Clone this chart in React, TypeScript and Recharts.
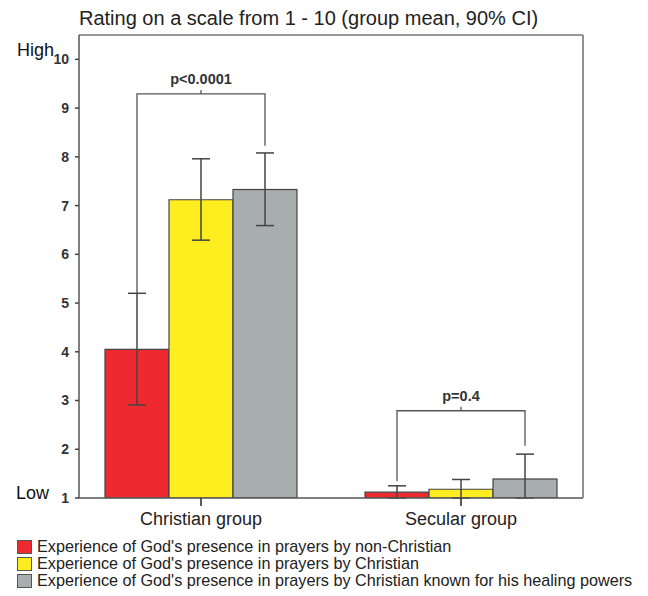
import React from 'react';
import { BarChart, Bar, XAxis, YAxis, ErrorBar, Legend, Customized } from 'recharts';

// Groups on the x axis
const groups = ['Christian group', 'Secular group'];

// Legend / series names
const seriesNames = [
  "Experience of God's presence in prayers by non-Christian",
  "Experience of God's presence in prayers by Christian",
  "Experience of God's presence in prayers by Christian known for his healing powers",
];

// Group means and 90% confidence limits per series
const nonChristianMean = [4.05, 1.12];
const nonChristianLow = [2.91, 1.0];
const nonChristianHigh = [5.2, 1.25];

const christianMean = [7.12, 1.18];
const christianLow = [6.29, 1.0];
const christianHigh = [7.96, 1.38];

const healerMean = [7.33, 1.39];
const healerLow = [6.59, 1.0];
const healerHigh = [8.08, 1.9];

// Significance brackets (per group): label, bar level, leg end on left / right
const pLabels = ['p<0.0001', 'p=0.4'];
const bracketLevel = [9.29, 2.79];
const bracketLeftEnd = [5.2, 1.35];
const bracketRightEnd = [8.23, 2.07];

// Y axis
const yTicks = [1, 2, 3, 4, 5, 6, 7, 8, 9, 10];
const Y_MIN = 1;
const Y_MAX = 10.5;

const title = 'Rating on a scale from 1 - 10 (group mean, 90% CI)';

const COLORS = ['#EE2A30', '#FFEE1F', '#A8ADAD'];
const FONT = '"Liberation Sans", Arial, Helvetica, sans-serif';

const data = groups.map((g, i) => ({
  group: g,
  nonChristian: nonChristianMean[i],
  nonChristianErr: [nonChristianMean[i] - nonChristianLow[i], nonChristianHigh[i] - nonChristianMean[i]],
  christian: christianMean[i],
  christianErr: [christianMean[i] - christianLow[i], christianHigh[i] - christianMean[i]],
  healer: healerMean[i],
  healerErr: [healerMean[i] - healerLow[i], healerHigh[i] - healerMean[i]],
  pLabel: pLabels[i],
  bracketLevel: bracketLevel[i],
  bracketLeftEnd: bracketLeftEnd[i],
  bracketRightEnd: bracketRightEnd[i],
}));

// Last bar of each group; also draws the significance bracket spanning
// from the first bar's centre to this bar's centre.
const HealerBarWithBracket = (props: any) => {
  const { x, y, width, height, payload } = props;
  const base = y + height;
  const perUnit = height / (payload.healer - Y_MIN);
  const toPx = (v: number) => base - (v - Y_MIN) * perUnit;
  const rightX = x + width / 2;
  const leftX = rightX - 2 * width;
  const midX = (leftX + rightX) / 2;
  const level = toPx(payload.bracketLevel);
  const bracketStroke = '#555';
  return (
    <g>
      <rect x={x} y={y} width={width} height={height} fill={COLORS[2]} stroke="#444" strokeWidth={1.2} />
      <path
        d={`M${leftX},${toPx(payload.bracketLeftEnd)} L${leftX},${level} L${rightX},${level} L${rightX},${toPx(payload.bracketRightEnd)}`}
        fill="none"
        stroke={bracketStroke}
        strokeWidth={1.3}
      />
      <line x1={midX} y1={level} x2={midX} y2={level - 4} stroke={bracketStroke} strokeWidth={1.3} />
      <text
        x={midX}
        y={level - 10}
        textAnchor="middle"
        fontFamily={FONT}
        fontSize={14.5}
        fontWeight="bold"
        fill="#333"
      >
        {payload.pLabel}
      </text>
    </g>
  );
};

const YTick = (props: any) => {
  const { x, y, payload } = props;
  const v = payload.value;
  return (
    <g>
      {v === 10 && (
        <text x={9} y={y - 3} fontFamily={FONT} fontSize={18} fill="#111">
          High
        </text>
      )}
      {v === 1 && (
        <text x={8} y={y + 1} fontFamily={FONT} fontSize={18} fill="#111">
          Low
        </text>
      )}
      <text x={x} y={y} dy="0.355em" textAnchor="end" fontFamily={FONT} fontSize={14} fontWeight="bold" fill="#333">
        {v}
      </text>
    </g>
  );
};

const Title = () => (
  <text x={71} y={17} fontFamily={FONT} fontSize={20} fill="#222">
    {title}
  </text>
);

const LegendBlock = () => (
  <div style={{ height: 51, paddingLeft: 9, fontFamily: FONT, fontSize: 16.2, color: '#222' }}>
    {seriesNames.map((name, i) => (
      <div key={name} style={{ height: 17, display: 'flex', alignItems: 'center' }}>
        <span
          style={{
            display: 'inline-block',
            width: 15,
            height: 14,
            background: COLORS[i],
            border: '1px solid #555',
            boxSizing: 'border-box',
            marginRight: 5,
            flex: 'none',
          }}
        />
        <span style={{ whiteSpace: 'nowrap', lineHeight: '17px' }}>{name}</span>
      </div>
    ))}
  </div>
);

export default function App() {
  return (
    <BarChart
      width={640}
      height={588}
      data={data}
      margin={{ top: 26, right: 64, bottom: 7, left: 0 }}
      barCategoryGap={34}
      barGap={0}
    >
      <Customized component={Title} />
      <XAxis
        dataKey="group"
        padding={{ left: -8, right: -8 }}
        height={40}
        tickSize={8}
        tickMargin={6}
        tick={{ fontFamily: FONT, fontSize: 18, fill: '#222' }}
        tickLine={{ stroke: '#333', strokeWidth: 1.6 }}
        axisLine={{ stroke: '#555', strokeWidth: 1.5 }}
      />
      <XAxis
        xAxisId="frameTop"
        orientation="top"
        type="number"
        domain={[0, 1]}
        height={1}
        tick={false}
        tickLine={false}
        axisLine={{ stroke: '#777', strokeWidth: 1.6 }}
      />
      <YAxis
        domain={[Y_MIN, Y_MAX]}
        ticks={yTicks}
        width={71}
        tickSize={4}
        tickMargin={6}
        tick={<YTick />}
        tickLine={{ stroke: '#444', strokeWidth: 1.5 }}
        axisLine={{ stroke: '#555', strokeWidth: 1.5 }}
        interval={0}
        allowDataOverflow
      />
      <YAxis
        yAxisId="frameRight"
        orientation="right"
        type="number"
        domain={[0, 1]}
        width={1}
        tick={false}
        tickLine={false}
        axisLine={{ stroke: '#777', strokeWidth: 1.6 }}
      />
      <Legend verticalAlign="bottom" align="left" content={<LegendBlock />} wrapperStyle={{ width: 640, left: 0 }} />
      <Bar dataKey="nonChristian" fill={COLORS[0]} stroke="#444" strokeWidth={1.2} isAnimationActive={false}>
        <ErrorBar dataKey="nonChristianErr" width={9} stroke="#444" strokeWidth={1.5} direction="y" />
      </Bar>
      <Bar dataKey="christian" fill={COLORS[1]} stroke="#444" strokeWidth={1.2} isAnimationActive={false}>
        <ErrorBar dataKey="christianErr" width={9} stroke="#444" strokeWidth={1.5} direction="y" />
      </Bar>
      <Bar dataKey="healer" fill={COLORS[2]} shape={<HealerBarWithBracket />} isAnimationActive={false}>
        <ErrorBar dataKey="healerErr" width={9} stroke="#444" strokeWidth={1.5} direction="y" />
      </Bar>
    </BarChart>
  );
}
